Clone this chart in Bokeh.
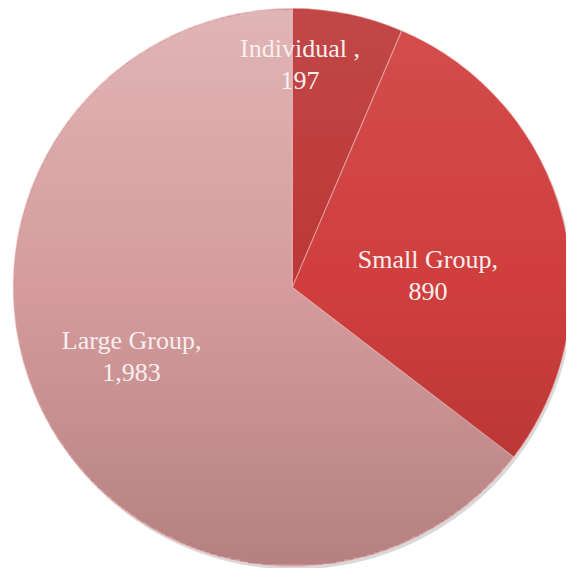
import math
import numpy as np
from bokeh.plotting import figure
from bokeh.models import ColumnDataSource, Range1d
from bokeh.core.properties import value
from bokeh.embed import file_html
from bokeh.resources import INLINE

categories = ["Individual ", "Small Group", "Large Group"]
counts = [197, 890, 1983]
colors = ["#bd3838", "#d03f3e", "#d69c9d"]

W, H = 566, 568
s = W / 582.0
cx, cy, R = 300 * s, H - 295 * s, 287 * s

total = sum(counts)
starts, ends = [], []
a = math.pi / 2
for c in counts:
    sweep = 2 * math.pi * c / total
    starts.append(a - sweep)
    ends.append(a)
    a -= sweep

src = ColumnDataSource(dict(start=starts, end=ends, color=colors))

p = figure(width=W, height=H, x_range=Range1d(0, W), y_range=Range1d(0, H),
           output_backend="svg", toolbar_location=None, min_border=0)
p.axis.visible = False
p.grid.visible = False
p.outline_line_color = None
p.background_fill_color = "white"
p.border_fill_color = "white"

# soft shadow
p.wedge(x=cx + 2, y=cy - 3, radius=R, start_angle="start", end_angle="end",
        source=src, fill_color="#000000", fill_alpha=0.15, line_color=None)
p.wedge(x=cx, y=cy, radius=R, start_angle="start", end_angle="end",
        source=src, fill_color="color", line_color="#f3c8c8", line_alpha=0.45,
        line_width=1.2)

# vertical shading overlay (light at top, dark at bottom), masked to the disc
n = 320
yy, xx = np.mgrid[0:n, 0:n]
u = (xx + 0.5) / n * 2 - 1
v = (yy + 0.5) / n * 2 - 1  # -1 bottom, +1 top
inside = (u * u + v * v) <= 0.993
theta = np.arctan2(v, u)
slice_idx = np.full((n, n), 2)
for i in range(2):
    lo, hi = starts[i], ends[i]
    t = np.where(theta > hi, theta - 2 * math.pi, theta)
    slice_idx = np.where((t > lo) & (t <= hi), i, slice_idx)
light_k = np.where(slice_idx == 2, 0.26, 0.08)
dark_k = np.where(slice_idx == 2, 0.18, 0.20)
is_light = v > 0
img = np.zeros((n, n, 4), dtype=np.uint8)
img[..., 0] = np.where(is_light, 255, 30)
img[..., 1] = np.where(is_light, 255, 0)
img[..., 2] = np.where(is_light, 255, 0)
alpha = np.where(is_light, v * light_k, -v * dark_k)
img[..., 3] = (np.clip(alpha, 0, 1) * 255 * inside).astype(np.uint8)
rgba = img.view(dtype=np.uint32).reshape((n, n))
p.image_rgba(image=[rgba], x=cx - R, y=cy - R, dw=2 * R, dh=2 * R)

# label placement (polar offsets from pie centre)
label_r = [229 * s, 140 * s, 180 * s]
label_ang = [88, 5, 203.4]
lx = [cx + r * math.cos(math.radians(t)) for r, t in zip(label_r, label_ang)]
ly = [cy + r * math.sin(math.radians(t)) for r, t in zip(label_r, label_ang)]
texts = [f"{n},\n{c:,}" for n, c in zip(categories, counts)]
lsrc = ColumnDataSource(dict(x=lx, y=ly, text=texts))
p.text(x="x", y="y", text="text", source=lsrc, text_align="center",
       text_baseline="middle", text_font=value("Liberation Serif"),
       text_font_size="26px", text_color="#f7eeee", text_line_height=1.1)

open("out.html", "w").write(file_html(p, INLINE))
